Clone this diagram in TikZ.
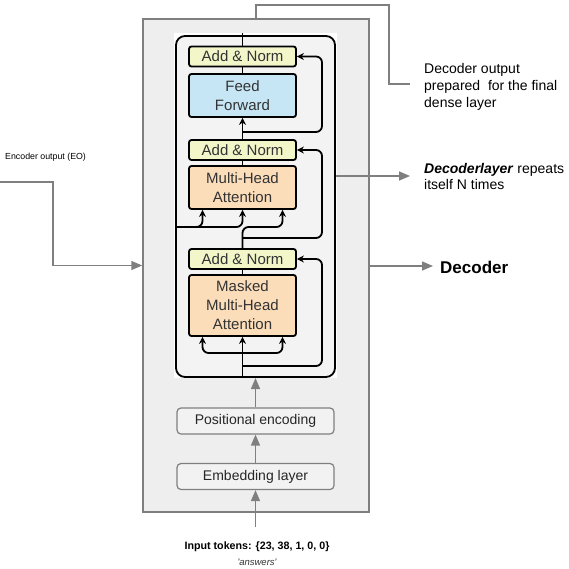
\documentclass[tikz,border=0pt]{standalone}
\usepackage{fontspec}
\setmainfont{Liberation Sans}
\usetikzlibrary{arrows.meta}

\definecolor{panelgrey}{HTML}{EEEEEE}
\definecolor{edgegrey}{HTML}{7F7F7F}
\definecolor{layergrey}{HTML}{F3F3F3}
\definecolor{normyellow}{HTML}{F2F6C8}
\definecolor{ffblue}{HTML}{C6E6F5}
\definecolor{attnorange}{HTML}{FCDDBA}
\definecolor{inkgrey}{HTML}{333333}

\tikzset{
    sublayer/.style={draw=black, line width=1.8pt, rounded corners=2.5pt, minimum width=107pt,
        inner sep=0pt, align=center, text=inkgrey, font=\fontsize{15}{19}\selectfont},
    addnorm/.style={sublayer, fill=normyellow, minimum height=20pt},
    wire/.style={line width=1.8pt, rounded corners=6pt},
    wirearrow/.style={wire, -{Stealth[length=7pt,width=7pt]}},
    inputbox/.style={draw=edgegrey, line width=1.2pt, fill=black!5, rounded corners=4pt,
        minimum width=157pt, minimum height=26pt, inner sep=0pt, text=black!85,
        font=\fontsize{14}{16}\selectfont},
    greyarrow/.style={draw=edgegrey, line width=1.5pt, -{Triangle[length=11pt,width=9pt]}},
    greyline/.style={draw=edgegrey, line width=1.5pt},
}

\begin{document}
\begin{tikzpicture}[x=1pt,y=-1pt]
    \useasboundingbox (0,0) rectangle (569,569);

    \node[draw=edgegrey, line width=1.5pt, fill=panelgrey, minimum width=226pt, minimum height=493pt, inner sep=0pt] (dec) at (256,265.5) {};

    \fill[white] (174,33) rectangle (337,378);
    \node[draw=black, line width=1.8pt, fill=layergrey, rounded corners=9pt, minimum width=159pt, minimum height=341pt, inner sep=0pt] (layer) at (255.5,206.5) {};

    \node[addnorm] (an1) at (242.5,56.5) {Add \& Norm};
    \node[sublayer, fill=ffblue, minimum height=43pt] (ff) at (242.5,95.5) {Feed\\Forward};
    \node[addnorm] (an2) at (242.5,150) {Add \& Norm};
    \node[sublayer, fill=attnorange, minimum height=43pt] (mha) at (242.5,187.5) {Multi-Head\\Attention};
    \node[addnorm] (an3) at (242.5,259) {Add \& Norm};
    \node[sublayer, fill=attnorange, minimum height=61pt] (mmha) at (242.5,305.5) {Masked\\Multi-Head\\Attention};

    \coordinate (top) at (242.5,33);
    \coordinate (side) at (322,0);
    \coordinate (r1) at (242.5,132);
    \coordinate (eo) at (175,227);
    \coordinate (q) at (282.5,227);
    \coordinate (r2) at (242.5,238);
    \coordinate (fan) at (242.5,353);
    \coordinate (r3) at (242.5,366);
    \coordinate (bot) at (242.5,378);

    \draw[wire] (an1.north) -- (top);
    \draw[wire] (an1.south) -- (ff.north);
    \draw[wirearrow] (an2.north) -- (ff.south);
    \draw[wirearrow] (r1) -| (side |- an1.east) -- (an1.east);
    \draw[wire] (an2.south) -- (mha.north);
    \draw[wirearrow] (eo) -| ([xshift=-40pt]mha.south);
    \draw[wirearrow] (eo) -| (mha.south);
    \draw[wirearrow] (an3.north) |- (q) -- ([xshift=40pt]mha.south);
    \draw[wirearrow] (r2) -| (side |- an2.east) -- (an2.east);
    \draw[wire] (mmha.north) -- (an3.south);
    \draw[wirearrow] (bot) -- (mmha.south);
    \draw[wirearrow] (fan) -| ([xshift=-40pt]mmha.south);
    \draw[wirearrow] (fan) -| ([xshift=40pt]mmha.south);
    \draw[wirearrow] (r3) -| (side |- an3.east) -- (an3.east);

    \node[inputbox] (pos) at (255.5,421) {Positional encoding};
    \node[inputbox] (emb) at (255.5,476.5) {Embedding layer};
    \coordinate (lin) at (255.5,378);
    \coordinate (tok) at (255.5,527);
    \draw[greyarrow] (pos.north) -- (lin);
    \draw[greyarrow] (emb.north) -- (pos.south);
    \draw[greyarrow] (tok) -- (emb.south);
    \node[font=\bfseries\fontsize{10.7}{12}\selectfont, inner sep=0pt] (tokens) at (257,547) {Input tokens: \{23, 38, 1, 0, 0\}};
    \node[font=\itshape\fontsize{9.5}{11}\selectfont, text=inkgrey, inner sep=0pt] (answers) at (257,562) {\textquotesingle answers\textquotesingle};

    \coordinate (outbend) at (389,5);
    \coordinate (outend) at (410,84);
    \draw[greyline] (dec.north) |- (outbend) |- (outend);
    \node[anchor=north west, align=left, inner sep=0pt, font=\fontsize{14}{17}\selectfont] (outtxt) at (424,63) {Decoder output\\prepared\ \ for the final\\dense layer};

    \node[anchor=west, inner sep=0pt, font=\fontsize{8.8}{10}\selectfont] (eotxt) at (5,157) {Encoder output (EO)};
    \coordinate (eostart) at (0,182);
    \coordinate (eobend) at (53,0);
    \draw[greyarrow] (eostart) -| (eobend |- dec.west) -- (dec.west);

    \coordinate (repend) at (410,176);
    \draw[greyarrow] (layer.east |- repend) -- (repend);
    \node[anchor=north west, align=left, inner sep=0pt, font=\fontsize{14}{16}\selectfont] (reptxt) at (424,163) {\textbf{\textit{Decoderlayer}} repeats\\itself N times};

    \coordinate (decend) at (433,266);
    \draw[greyarrow] (dec.east |- decend) -- (decend);
    \node[anchor=west, inner sep=0pt, font=\bfseries\fontsize{17}{20}\selectfont] (dectxt) at (440,267) {Decoder};
\end{tikzpicture}
\end{document}
